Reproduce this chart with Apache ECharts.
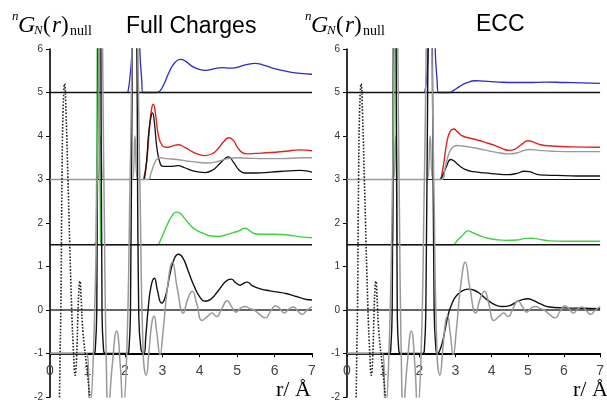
<!DOCTYPE html>
<html>
<head>
<meta charset="utf-8">
<script src="https://cdn.jsdelivr.net/npm/echarts@6/dist/echarts.min.js"></script>
<style>
  html, body { margin: 0; padding: 0; background: #fff; }
  #chart { width: 607px; height: 402px; }
</style>
</head>
<body>
<div id="chart"></div>
<script>
// tick labels / axis ranges
var xTicks = [0, 1, 2, 3, 4, 5, 6, 7];
var yTicks = [-2, -1, 0, 1, 2, 3, 4, 5, 6];
var baselineLevels = [5, 1.5, 0];
var titles = ['Full Charges', 'ECC'];

// shared curves (same in both panels)
var dotted = [[0.25,-2.3],[0.27,-1],[0.29,0],[0.32,3],[0.35,4.6],[0.39,5.2],[0.43,4.5],[0.48,3],[0.58,0],[0.63,-1],[0.67,-1.5],[0.71,-1.1],[0.75,0],[0.78,0.55],[0.8,0.66],[0.83,0.3],[0.88,-0.5],[0.98,-1.3],[1.1,-2.3]];
var grayNull = [[0,-1],[0.98,-1],[1.06,-2.3],[1.16,-1],[1.26,3],[1.35,9],[1.44,3],[1.5,-1],[1.56,-2.3],[1.66,-1.3],[1.78,-0.48],[1.88,-1.3],[1.95,-2.3],[2.05,-1],[2.14,3],[2.27,9],[2.4,3],[2.49,-1],[2.57,-1.5],[2.65,-0.9],[2.72,-0.3],[2.78,-0.14],[2.85,-0.5],[2.94,-1.03],[3.02,-0.5],[3.15,0.6],[3.27,1.1],[3.4,0.5],[3.56,-0.07],[3.68,0.25],[3.8,0.43],[3.92,0.15],[4.06,-0.24],[4.2,-0.15],[4.33,-0.07],[4.45,-0.15],[4.6,0.05],[4.73,0.21],[4.85,0.08],[4.97,-0.05],[5.1,0.05],[5.21,0.08],[5.35,0.03],[5.45,0],[5.6,-0.1],[5.75,-0.18],[5.9,-0.02],[6.02,0.1],[6.14,0.03],[6.26,-0.07],[6.38,0.02],[6.5,0.07],[6.62,-0.02],[6.74,-0.1],[6.87,0],[7,0.08]];

// Full Charges panel
var blueFC = [[2.08,5],[2.13,5.3],[2.19,6],[2.24,9],[2.29,12],[2.35,9],[2.4,6],[2.45,5.3],[2.48,5],[2.86,5],[2.95,5.05],[3.05,5.2],[3.2,5.5],[3.35,5.7],[3.48,5.76],[3.62,5.72],[3.8,5.6],[4.0,5.53],[4.15,5.51],[4.4,5.55],[4.6,5.57],[4.81,5.56],[5.0,5.58],[5.25,5.64],[5.48,5.67],[5.7,5.63],[6.0,5.55],[6.3,5.49],[6.68,5.44],[7,5.42]];
var redFC = [[2.5,3],[2.58,3.4],[2.65,4.1],[2.71,4.6],[2.76,4.73],[2.82,4.5],[2.9,4.0],[3.0,3.78],[3.12,3.74],[3.3,3.78],[3.42,3.8],[3.6,3.74],[3.8,3.64],[4.0,3.57],[4.14,3.55],[4.35,3.6],[4.5,3.72],[4.65,3.88],[4.78,3.96],[4.9,3.9],[5.0,3.75],[5.12,3.63],[5.26,3.59],[5.5,3.6],[5.9,3.62],[6.3,3.65],[6.68,3.68],[7,3.66]];
var grayFC = [[0,3],[1.27,3],[1.35,4],[1.43,3],[2.2,3],[2.27,4],[2.34,3],[2.62,3],[2.7,3.15],[2.78,3.35],[2.86,3.47],[2.95,3.5],[3.1,3.48],[3.4,3.46],[3.7,3.42],[4.0,3.39],[4.2,3.38],[4.5,3.42],[4.75,3.48],[5.0,3.5],[5.3,3.49],[5.7,3.48],[6.2,3.48],[6.7,3.5],[7,3.5]];
var black3FC = [[2.52,3],[2.58,3.4],[2.64,4.1],[2.7,4.45],[2.74,4.53],[2.79,4.3],[2.86,3.7],[2.95,3.35],[3.02,3.3],[3.2,3.3],[3.42,3.32],[3.6,3.27],[3.85,3.19],[4.14,3.16],[4.35,3.22],[4.55,3.38],[4.7,3.5],[4.77,3.52],[4.9,3.4],[5.05,3.22],[5.2,3.15],[5.5,3.15],[5.9,3.17],[6.4,3.2],[6.7,3.21],[7,3.17]];
var greenFC = [[1.18,1.5],[1.23,1.6],[1.26,6],[1.29,12],[1.32,6],[1.35,1.6],[1.4,1.5],[2.86,1.5],[2.95,1.6],[3.1,1.9],[3.25,2.15],[3.37,2.25],[3.48,2.22],[3.6,2.1],[3.75,1.95],[3.9,1.84],[4.1,1.76],[4.3,1.7],[4.5,1.69],[4.7,1.73],[4.9,1.78],[5.05,1.82],[5.2,1.88],[5.3,1.85],[5.45,1.76],[5.7,1.74],[6.0,1.74],[6.3,1.73],[6.7,1.68],[7,1.66]];
var black0FC = [[0,-1],[1.17,-1],[1.21,-0.9],[1.25,0],[1.28,6],[1.32,10],[1.36,6],[1.39,0],[1.43,-0.9],[1.48,-1],[2.07,-1],[2.11,-0.9],[2.15,0],[2.2,6],[2.26,10],[2.32,6],[2.37,0],[2.43,-0.9],[2.51,-1],[2.56,-0.6],[2.62,0],[2.7,0.55],[2.79,0.73],[2.87,0.45],[2.98,0.16],[3.08,0.3],[3.2,0.8],[3.32,1.18],[3.43,1.28],[3.55,1.2],[3.7,0.88],[3.85,0.55],[4.0,0.3],[4.14,0.2],[4.3,0.25],[4.5,0.45],[4.7,0.66],[4.84,0.71],[4.97,0.62],[5.08,0.57],[5.18,0.62],[5.27,0.64],[5.4,0.56],[5.6,0.49],[5.88,0.44],[6.1,0.41],[6.3,0.38],[6.5,0.33],[6.7,0.28],[6.85,0.24],[7,0.23]];

// ECC panel
var blueECC = [[2.15,5],[2.2,5.3],[2.25,6],[2.3,9],[2.34,12],[2.39,9],[2.44,6],[2.49,5.3],[2.53,5],[2.82,5],[2.95,5.05],[3.1,5.13],[3.3,5.22],[3.55,5.27],[3.8,5.26],[4.2,5.24],[4.6,5.23],[5.0,5.23],[5.5,5.24],[6.0,5.23],[6.5,5.22],[7,5.21]];
var redECC = [[2.6,3],[2.68,3.4],[2.76,3.85],[2.85,4.1],[2.95,4.16],[3.05,4.1],[3.2,4.0],[3.5,3.93],[3.8,3.86],[4.1,3.78],[4.3,3.71],[4.47,3.67],[4.65,3.7],[4.85,3.82],[5.0,3.89],[5.15,3.86],[5.35,3.8],[5.67,3.77],[6.2,3.75],[7,3.74]];
var grayECC = [[0,3],[1.28,3],[1.35,4],[1.42,3],[2.22,3],[2.3,4],[2.38,3],[2.62,3],[2.72,3.3],[2.82,3.6],[2.92,3.74],[3.05,3.78],[3.2,3.77],[3.5,3.73],[3.8,3.68],[4.1,3.63],[4.45,3.59],[4.7,3.61],[4.9,3.67],[5.05,3.69],[5.3,3.67],[5.7,3.65],[6.3,3.64],[7,3.64]];
var black3ECC = [[2.58,3],[2.65,3.1],[2.75,3.3],[2.87,3.46],[2.97,3.42],[3.1,3.32],[3.3,3.22],[3.5,3.18],[3.8,3.15],[4.1,3.13],[4.45,3.11],[4.7,3.14],[4.9,3.19],[5.05,3.18],[5.25,3.12],[5.5,3.1],[6,3.09],[6.5,3.08],[7,3.08]];
var greenECC = [[1.22,1.5],[1.27,1.6],[1.3,6],[1.33,12],[1.36,6],[1.39,1.6],[1.44,1.5],[2.93,1.5],[3.05,1.6],[3.2,1.72],[3.35,1.82],[3.5,1.77],[3.7,1.7],[3.9,1.65],[4.1,1.62],[4.4,1.6],[4.7,1.61],[4.9,1.64],[5.1,1.65],[5.3,1.63],[5.6,1.59],[6.0,1.58],[6.5,1.58],[7,1.58]];
var black0ECC = [[0,-1],[1.17,-1],[1.21,-0.9],[1.25,0],[1.28,6],[1.32,10],[1.36,6],[1.39,0],[1.43,-0.9],[1.48,-1],[2.1,-1],[2.14,-0.9],[2.18,0],[2.24,6],[2.3,10],[2.36,6],[2.41,0],[2.46,-0.9],[2.5,-1],[2.6,-0.85],[2.7,-0.5],[2.8,-0.1],[2.88,0.1],[3.0,0.3],[3.15,0.42],[3.35,0.48],[3.5,0.46],[3.7,0.36],[3.9,0.22],[4.1,0.12],[4.3,0.08],[4.5,0.1],[4.7,0.19],[4.85,0.24],[5.0,0.26],[5.15,0.22],[5.35,0.14],[5.6,0.07],[6.0,0.05],[6.5,0.04],[7,0.03]];

var chart = echarts.init(document.getElementById('chart'), null, { renderer: 'canvas' });

function line(i, data, color, width, extra) {
    return Object.assign({
        type: 'line', xAxisIndex: i, yAxisIndex: i, data: data,
        symbol: 'none', silent: true, smooth: 0.5,
        lineStyle: { color: color, width: width }
    }, extra || {});
}

function panelSeries(i, p) {
    var s = [];
    s.push(line(i, [[0, 3], [7, 3]], '#111', 1.2, { smooth: false }));
    s.push(line(i, p.blue, '#2b2bcc', 1.3));
    s.push(line(i, p.red, '#e02222', 1.4));
    s.push(line(i, p.black3, '#111', 1.3));
    s.push(line(i, p.gray3, '#999', 1.4));
    s.push(line(i, p.green, '#3fd23f', 1.4));
    baselineLevels.forEach(function (v) {
        s.push(line(i, [[0, v], [7, v]], v === 0 ? '#333' : '#111', v === 0 ? 1.5 : 1.3, { smooth: false }));
    });
    s.push(line(i, p.black0, '#111', 1.4));
    s.push(line(i, grayNull, '#999', 1.5));
    s.push(line(i, dotted, '#222', 1.6, { lineStyle: { color: '#222', width: 1.6, type: 'dotted' } }));
    return s;
}

function yLabel(dx) {
    var f = '"Liberation Serif", serif';
    return [
        { type: 'text', x: 12 + dx, y: 17, style: { text: 'n', font: 'italic 13px ' + f, fill: '#000', verticalAlign: 'middle' } },
        { type: 'text', x: 18 + dx, y: 26, style: { text: 'G', font: 'italic 24px ' + f, fill: '#000', verticalAlign: 'middle' } },
        { type: 'text', x: 34 + dx, y: 31, style: { text: 'N', font: 'italic 13px ' + f, fill: '#000', verticalAlign: 'middle' } },
        { type: 'text', x: 43 + dx, y: 26, style: { text: '(', font: '23px ' + f, fill: '#000', verticalAlign: 'middle' } },
        { type: 'text', x: 52 + dx, y: 26, style: { text: 'r', font: 'italic 23px ' + f, fill: '#000', verticalAlign: 'middle' } },
        { type: 'text', x: 61 + dx, y: 26, style: { text: ')', font: '23px ' + f, fill: '#000', verticalAlign: 'middle' } },
        { type: 'text', x: 70 + dx, y: 31, style: { text: 'null', font: '14px ' + f, fill: '#000', verticalAlign: 'middle' } }
    ];
}

var grids = [
    { left: 50, top: 49, width: 262, height: 350 },
    { left: 347, top: 49, width: 263, height: 350 }
];

var option = {
    animation: false,
    backgroundColor: '#fff',
    grid: grids,
    xAxis: [0, 1].map(function (i) {
        return {
            gridIndex: i, type: 'value', min: xTicks[0], max: xTicks[xTicks.length - 1], interval: 1,
            offset: -43.75,
            axisLine: { onZero: false, lineStyle: { color: '#000', width: 1.8 } },
            axisTick: { length: 4, lineStyle: { color: '#000', width: 1 } },
            axisLabel: { fontSize: 14, color: '#444', margin: 11, fontFamily: '"Liberation Sans", Arial' },
            splitLine: { show: false }
        };
    }),
    yAxis: [0, 1].map(function (i) {
        return {
            gridIndex: i, type: 'value', min: yTicks[0], max: yTicks[yTicks.length - 1], interval: 1,
            axisLine: { show: true, onZero: false, lineStyle: { color: '#000', width: 1.6 } },
            axisTick: { show: true, length: 4, lineStyle: { color: '#000', width: 1 } },
            axisLabel: { fontSize: 10, color: '#333', margin: 7, fontFamily: '"Liberation Sans", Arial' },
            splitLine: { show: false }
        };
    }),
    series: panelSeries(0, { blue: blueFC, red: redFC, gray3: grayFC, black3: black3FC, green: greenFC, black0: black0FC })
        .concat(panelSeries(1, { blue: blueECC, red: redECC, gray3: grayECC, black3: black3ECC, green: greenECC, black0: black0ECC })),
    graphic: [
        { type: 'text', x: 126, y: 27, style: { text: titles[0], font: '23px "Liberation Sans", Arial', fill: '#000', verticalAlign: 'middle' } },
        { type: 'text', x: 476, y: 25, style: { text: titles[1], font: '23px "Liberation Sans", Arial', fill: '#000', verticalAlign: 'middle' } },
        { type: 'text', x: 276, y: 401, style: { text: 'r/ Å', font: '22px "Liberation Serif", serif', fill: '#000', verticalAlign: 'bottom' } },
        { type: 'text', x: 573, y: 401, style: { text: 'r/ Å', font: '22px "Liberation Serif", serif', fill: '#000', verticalAlign: 'bottom' } }
    ].concat(yLabel(0)).concat(yLabel(293))
};

chart.setOption(option);
</script>
</body>
</html>
